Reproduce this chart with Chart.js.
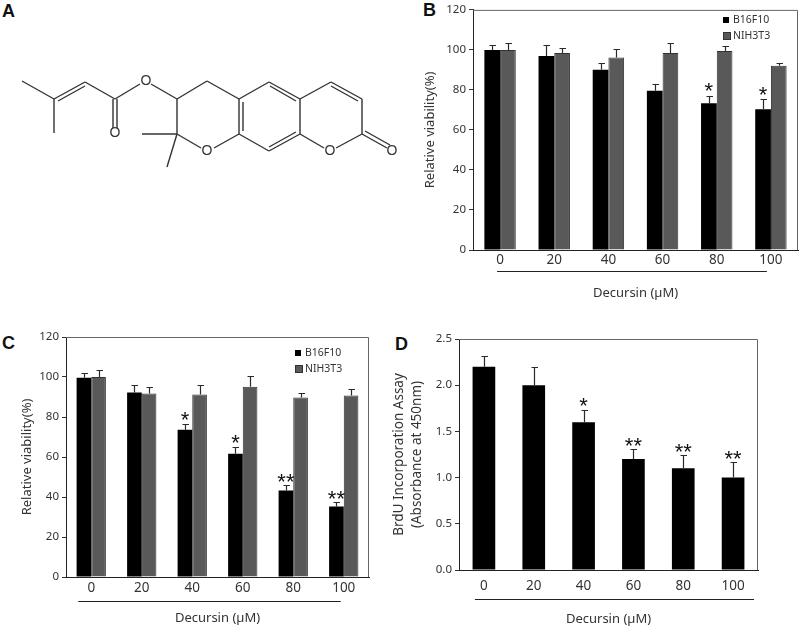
<!DOCTYPE html>
<html><head><meta charset="utf-8">
<style>
html,body{margin:0;padding:0;background:#fff;width:800px;height:627px;overflow:hidden}
canvas{position:absolute;display:block}
.p{position:absolute;font:bold 18px "Liberation Sans",sans-serif;color:#111;line-height:18px}
</style>
<script src="https://cdn.jsdelivr.net/npm/chart.js@4/dist/chart.umd.min.js"></script>
</head><body>
<div class="p" style="left:2px;top:2px">A</div>
<div class="p" style="left:423px;top:1px">B</div>
<div class="p" style="left:2px;top:334px">C</div>
<div class="p" style="left:395px;top:335px">D</div>
<canvas id="a" width="410" height="180" style="left:0;top:0"></canvas>
<canvas id="b" width="390" height="310" style="left:410px;top:0"></canvas>
<canvas id="c" width="385" height="302" style="left:0;top:325px"></canvas>
<canvas id="d" width="385" height="302" style="left:385px;top:325px"></canvas>
<script>
// ---- data ----
const doses = ['0','20','40','60','80','100'];
const seriesNames = ['B16F10','NIH3T3'];

const bB16 = [100,97,90.1,79.6,73.4,70.4];
const bB16Err = [2.5,5.5,3.5,3.4,3.6,4.9];
const bNIH = [100,98.4,96.2,98.4,99.5,92.1];
const bNIHErr = [3.5,2.4,4.1,5.1,2.3,1.5];
const bStars = ['','','','','*','*'];

const cB16 = [99.6,92.2,73.6,61.6,43.2,35.3];
const cB16Err = [2.3,3.7,2.9,3.2,2.8,2.2];
const cNIH = [100,91.8,91.3,95.1,89.7,90.8];
const cNIHErr = [3.5,3.4,4.7,5.2,2.5,3.2];
const cStars = ['','','*','*','**','**'];

const dBrdU = [2.2,2.0,1.6,1.2,1.1,1.0];
const dBrdUErr = [0.12,0.2,0.13,0.11,0.15,0.17];
const dStars = ['','','*','**','**','**'];

// decursin structural formula (drawing units, panel A)
const bonds = [
 [22,81,54,99],[54,99,54,133],[54,99,85,82],[58,101,85,86],[85,82,115,99],
 [113,99,113,128],[117,99,117,128],[115,99,140,84],[151,84,177,99],[177,99,207,81],
 [207,81,239,99],[239,99,239,134],[243,102,243,131],[177,99,177,134],[177,134,142,134],
 [177,134,167,167],[177,134,201,148],[214,148,239,134],[239,99,269,82],[269,82,300,99],
 [270,86,296,101],[300,99,300,134],[300,134,269,151],[296,132,269,147],[269,151,239,134],
 [300,99,331,82],[331,82,362,99],[331,86,358,101],[362,99,362,134],[362,134,336,148],
 [324,148,300,134],[362,134,387,148],[365,131,390,145]
];
const atoms = [[115,133],[146,81],[207,151],[330,151],[392,151]];
const atomName = 'O';

// ---- helpers ----
const FONT = '"Noto Sans",sans-serif';
const INK = '#333';

const errPlugin = {
  id:'err',
  afterDatasetsDraw(ch, args, o){
    const y = ch.scales.y, ctx = ch.ctx;
    ch.data.datasets.forEach((ds,i)=>{
      const m = ch.getDatasetMeta(i);
      m.data.forEach((bar,k)=>{
        const top = y.getPixelForValue(ds.data[k]+ds.err[k]);
        const x = Math.round(bar.x)+0.5, yt = Math.round(top)+0.5;
        ctx.save();
        ctx.strokeStyle='#2a2a2a'; ctx.lineWidth=1.2;
        ctx.beginPath();
        ctx.moveTo(x,y.getPixelForValue(ds.data[k])); ctx.lineTo(x,yt);
        ctx.moveTo(x-3,yt); ctx.lineTo(x+3.5,yt);
        ctx.stroke();
        if(ds.stars && ds.stars[k]){
          ctx.fillStyle='#111';
          ctx.font='22px "Liberation Sans",sans-serif';
          ctx.textAlign='center'; ctx.textBaseline='alphabetic';
          ctx.fillText(ds.stars[k], bar.x, top+(ds.stars[k].length>1?o.doubleGap:o.singleGap));
        }
        ctx.restore();
      });
    });
  }
};
const framePlugin = {
  id:'frame',
  afterDraw(ch, args, o){
    const a = ch.chartArea, ctx = ch.ctx, xs = ch.scales.x;
    ctx.save();
    ctx.strokeStyle='#666'; ctx.lineWidth=1;
    ctx.beginPath();
    ctx.moveTo(a.left,a.top+0.5); ctx.lineTo(a.right-0.5,a.top+0.5); ctx.lineTo(a.right-0.5,a.bottom);
    ctx.stroke();
    ctx.strokeStyle='#222';
    ctx.beginPath();
    ctx.moveTo(xs.getPixelForValue(0)+o.ruleFrom,o.ruleY+0.5);
    ctx.lineTo(xs.getPixelForValue(5)+o.ruleTo,o.ruleY+0.5);
    ctx.stroke();
    ctx.restore();
  }
};
const keyPlugin = {
  id:'key',
  afterDraw(ch, args, o){
    if(!o.x) return;
    const ctx = ch.ctx;
    ctx.save();
    ch.data.datasets.forEach((ds,i)=>{
      const yc = o.y + i*o.dy;
      ctx.fillStyle = ds.backgroundColor;
      const w = i? 8:6, h = i? 8:6;
      ctx.fillRect(o.x, yc-h/2, w, h);
      if(i){ctx.strokeStyle='#333';ctx.lineWidth=1;ctx.strokeRect(o.x+.5,yc-h/2+.5,w-1,h-1);}
      ctx.fillStyle=INK;
      ctx.font=o.size+'px '+FONT;
      ctx.textAlign='left'; ctx.textBaseline='middle';
      ctx.fillText(ds.label, o.x+10, yc);
    });
    ctx.restore();
  }
};

function barChart(id, cfg){
  return new Chart(document.getElementById(id),{
    type:'bar',
    data:{labels:doses,datasets:cfg.datasets},
    plugins:[errPlugin,framePlugin,keyPlugin],
    options:{
      responsive:false,animation:false,events:[],
      layout:{padding:{top:cfg.top,right:cfg.right,left:0,bottom:0}},
      plugins:{
        legend:{display:false},tooltip:{enabled:false},
        err:{singleGap:cfg.singleGap,doubleGap:cfg.doubleGap},
        frame:cfg.rule,
        key:cfg.key||{}
      },
      scales:{
        x:{
          afterFit(s){s.height=cfg.xh;},
          grid:{display:false,drawTicks:false,tickLength:0},
          border:{color:'#222',width:1},
          ticks:{color:INK,font:{family:FONT,size:13.5},padding:cfg.xpad,maxRotation:0,autoSkip:false},
          title:{display:true,text:'Decursin (\u00b5M)',color:INK,font:{family:FONT,size:13},padding:{top:0,bottom:cfg.xtitleBottom}}
        },
        y:{
          afterFit(s){s.width=cfg.yw;},
          min:0,max:cfg.max,
          grid:{drawOnChartArea:false,drawTicks:true,tickLength:4,color:'#333'},
          border:{color:'#222',width:1},
          ticks:{stepSize:cfg.step,color:INK,font:{family:FONT,size:11.5},padding:3,
            callback:cfg.fmt||(v=>v)},
          title:{display:true,text:cfg.ytitle,color:INK,font:{family:FONT,size:cfg.ytsize||13,lineHeight:cfg.ytlh||1.2},padding:{top:cfg.ytop,bottom:0}}
        }
      }
    }
  });
}
const twoBars = (a,ae,s,b,be)=>[
  {label:seriesNames[0],data:a,err:ae,stars:s,backgroundColor:'#000',borderColor:'#000',borderWidth:0,categoryPercentage:.58,barPercentage:1},
  {label:seriesNames[1],data:b,err:be,backgroundColor:'#595959',borderColor:'#333',borderWidth:1,categoryPercentage:.58,barPercentage:1}
];

barChart('b',{
  datasets:twoBars(bB16,bB16Err,bStars,bNIH,bNIHErr),
  top:7,right:2,yw:63,xh:60,xpad:2,xtitleBottom:9,max:120,step:20,singleGap:2.5,doubleGap:4,
  ytitle:'Relative viability(%)',ytop:12,
  rule:{ruleFrom:-3,ruleTo:-4,ruleY:271},
  key:{x:313,y:20,dy:16,size:10.5}
});
barChart('c',{
  datasets:twoBars(cB16,cB16Err,cStars,cNIH,cNIHErr),
  top:12,right:16,yw:66,xh:50,xpad:3,xtitleBottom:1,max:120,step:20,singleGap:2.5,doubleGap:4,
  ytitle:'Relative viability(%)',ytop:19,
  rule:{ruleFrom:-13,ruleTo:-3,ruleY:276},
  key:{x:295,y:28,dy:16,size:10.5}
});
barChart('d',{
  datasets:[{label:'BrdU',data:dBrdU,err:dBrdUErr,stars:dStars,backgroundColor:'#000',borderColor:'#000',borderWidth:0,categoryPercentage:.455,barPercentage:1}],
  top:14,right:12,yw:74,xh:57,xpad:8,xtitleBottom:0,max:2.5,step:.5,singleGap:2.5,doubleGap:4,
  fmt:v=>v.toFixed(1),
  ytitle:['BrdU Incorporation Assay','(Absorbance at 450nm)'],ytop:5,ytlh:1.35,ytsize:13.5,
  rule:{ruleFrom:-9,ruleTo:21,ruleY:274}
});

// panel A: structural formula on hidden linear scales
const atomPlugin = {
  id:'atomLabels',
  afterDatasetsDraw(ch){
    const ctx=ch.ctx;
    ctx.save();
    ctx.fillStyle='#333';
    ctx.font='14px "Liberation Sans",sans-serif';
    ctx.textAlign='center';ctx.textBaseline='middle';
    atoms.forEach(p=>ctx.fillText(atomName,ch.scales.x.getPixelForValue(p[0]),ch.scales.y.getPixelForValue(p[1])));
    ctx.restore();
  }
};
new Chart(document.getElementById('a'),{
  type:'scatter',
  data:{datasets:bonds.map(b=>({data:[{x:b[0],y:b[1]},{x:b[2],y:b[3]}],showLine:true,borderColor:'#333',borderWidth:1.4,pointRadius:0,tension:0}))},
  plugins:[atomPlugin],
  options:{
    responsive:false,animation:false,events:[],
    layout:{padding:0},
    plugins:{legend:{display:false},tooltip:{enabled:false}},
    scales:{
      x:{type:'linear',display:false,min:0,max:410},
      y:{type:'linear',display:false,min:0,max:180,reverse:true}
    }
  }
});
</script>
</body></html>
